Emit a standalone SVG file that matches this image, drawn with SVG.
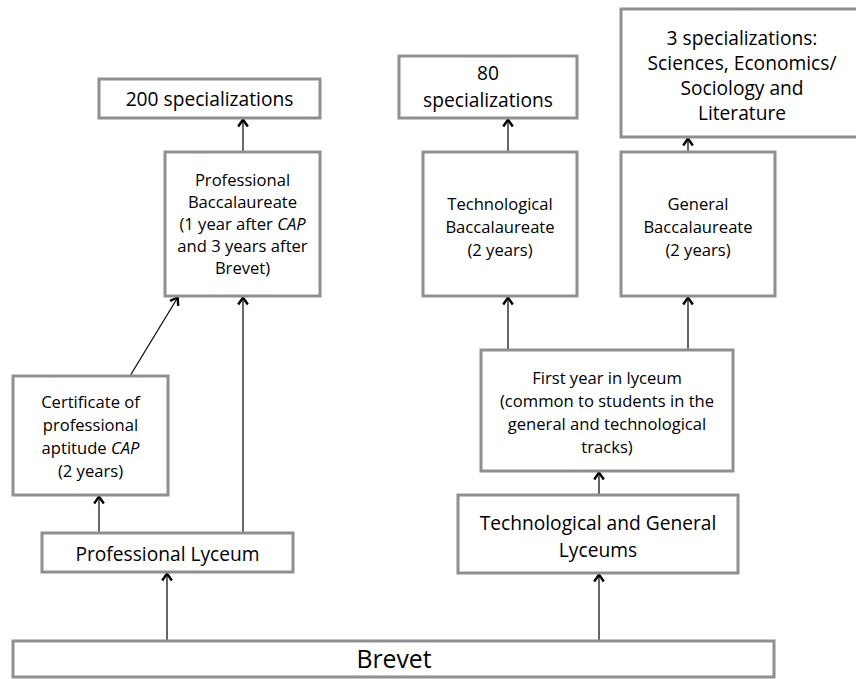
<svg xmlns="http://www.w3.org/2000/svg" width="856" height="679" viewBox="0 0 856 679">
<defs>
<style>
.box{fill:#fff;stroke:#8f8f8f;stroke-width:3}
.t{font-family:"Open Sans","Liberation Sans",sans-serif;fill:#000;text-anchor:middle}
.s{font-size:16.6px}
.m{font-size:19.2px}
.c{stroke:#000;stroke-width:1.2;fill:none}
</style>
<marker id="ah" markerUnits="userSpaceOnUse" markerWidth="14" markerHeight="14" viewBox="-10 -7 14 14" refX="0" refY="0" orient="auto">
<path d="M-7.5,-4.8 L-0.6,0 L-7.5,4.8" fill="none" stroke="#000" stroke-width="2.4"/>
</marker>
</defs>
<rect width="856" height="679" fill="#fff"/>
<g id="connectors">
<line class="c" x1="243" y1="152" x2="243" y2="119" marker-end="url(#ah)"/>
<line class="c" x1="130" y1="376" x2="178" y2="297" marker-end="url(#ah)"/>
<line class="c" x1="243" y1="533" x2="243" y2="297" marker-end="url(#ah)"/>
<line class="c" x1="99" y1="533" x2="99" y2="496" marker-end="url(#ah)"/>
<line class="c" x1="167" y1="641" x2="167" y2="573" marker-end="url(#ah)"/>
<line class="c" x1="508" y1="152" x2="508" y2="119" marker-end="url(#ah)"/>
<line class="c" x1="688" y1="160" x2="688" y2="138" marker-end="url(#ah)"/>
<line class="c" x1="508" y1="350" x2="508" y2="297" marker-end="url(#ah)"/>
<line class="c" x1="688" y1="350" x2="688" y2="297" marker-end="url(#ah)"/>
<line class="c" x1="599" y1="495" x2="599" y2="472" marker-end="url(#ah)"/>
<line class="c" x1="599" y1="641" x2="599" y2="574" marker-end="url(#ah)"/>
</g>
<g id="spec200">
<rect class="box" x="99" y="79" width="221" height="39"/>
<text class="t m" x="209.5" y="106">200 specializations</text>
</g>
<g id="profBacc">
<rect class="box" x="165" y="152" width="155" height="144"/>
<text class="t s" x="242.5" y="186">Professional</text>
<text class="t s" x="242.5" y="208">Baccalaureate</text>
<text class="t s" x="242.5" y="230">(1 year after <tspan font-style="italic">CAP</tspan></text>
<text class="t s" x="242.5" y="252">and 3 years after</text>
<text class="t s" x="242.5" y="274">Brevet)</text>
</g>
<g id="spec80">
<rect class="box" x="399" y="56" width="178" height="62"/>
<text class="t m" x="488" y="80">80</text>
<text class="t m" x="488" y="107">specializations</text>
</g>
<g id="spec3">
<rect class="box" x="621" y="9" width="243" height="128"/>
<text class="t m" x="742" y="45">3 specializations:</text>
<text class="t m" x="742" y="70">Sciences, Economics/</text>
<text class="t m" x="742" y="95">Sociology and</text>
<text class="t m" x="742" y="120">Literature</text>
</g>
<g id="techBacc">
<rect class="box" x="423" y="152" width="154" height="144"/>
<text class="t s" x="500" y="210">Technological</text>
<text class="t s" x="500" y="233">Baccalaureate</text>
<text class="t s" x="500" y="256">(2 years)</text>
</g>
<g id="genBacc">
<rect class="box" x="621" y="152" width="154" height="144"/>
<text class="t s" x="698" y="210">General</text>
<text class="t s" x="698" y="233">Baccalaureate</text>
<text class="t s" x="698" y="256">(2 years)</text>
</g>
<g id="cap">
<rect class="box" x="13" y="376" width="155" height="119"/>
<text class="t s" x="90.5" y="408">Certificate of</text>
<text class="t s" x="90.5" y="431">professional</text>
<text class="t s" x="90.5" y="454">aptitude <tspan font-style="italic">CAP</tspan></text>
<text class="t s" x="90.5" y="477">(2 years)</text>
</g>
<g id="firstYear">
<rect class="box" x="481" y="350" width="252" height="121"/>
<text class="t s" x="607" y="384">First year in lyceum</text>
<text class="t s" x="607" y="407">(common to students in the</text>
<text class="t s" x="607" y="430">general and technological</text>
<text class="t s" x="607" y="453">tracks)</text>
</g>
<g id="profLyceum">
<rect class="box" x="42" y="533" width="251" height="39"/>
<text class="t m" x="167.5" y="561">Professional Lyceum</text>
</g>
<g id="tgLyceums">
<rect class="box" x="458" y="495" width="280" height="78"/>
<text class="t m" x="598" y="530">Technological and General</text>
<text class="t m" x="598" y="557">Lyceums</text>
</g>
<g id="brevet">
<rect class="box" x="13" y="641" width="761" height="36"/>
<text class="t" x="394" y="668" font-size="24.8">Brevet</text>
</g>
</svg>
